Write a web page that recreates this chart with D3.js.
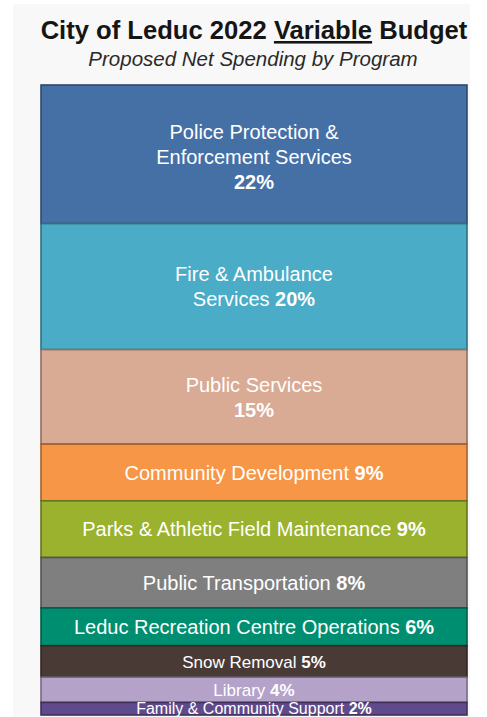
<!DOCTYPE html>
<html><head><meta charset="utf-8">
<script src="https://cdn.jsdelivr.net/npm/d3@7"></script>
<style>
html,body{margin:0;padding:0;background:#fff;}
svg{display:block;font-family:"Liberation Sans",Arial,sans-serif;}
</style></head>
<body><svg id="c" width="487" height="717"></svg>
<script>
const title = ["City of Leduc 2022 ", "Variable", " Budget"];
const subtitle = "Proposed Net Spending by Program";
const categories = ["Police Protection & Enforcement Services","Fire & Ambulance Services","Public Services","Community Development","Parks & Athletic Field Maintenance","Public Transportation","Leduc Recreation Centre Operations","Snow Removal","Library","Family & Community Support"];
const values = [22,20,15,9,9,8,6,5,4,2];
const labelLines = [
  ["Police Protection &","Enforcement Services","{p}"],
  ["Fire & Ambulance","Services {p}"],
  ["Public Services","{p}"],
  ["Community Development {p}"],
  ["Parks & Athletic Field Maintenance {p}"],
  ["Public Transportation  {p}"],
  ["Leduc Recreation Centre Operations {p}"],
  ["Snow Removal {p}"],
  ["Library {p}"],
  ["Family & Community  Support {p}"]
];
const colors = ["#4570a6","#4aacc6","#d9aa94","#f79646","#9bb22e","#7f7f7f","#008e70","#4a3a36","#b4a2c8","#5f4a8b"];

const svg = d3.select("#c");
svg.append("rect").attr("x",13).attr("y",4).attr("width",457).attr("height",713).attr("fill","#f8f8f8");

// title
const t = svg.append("text").attr("x",254).attr("y",39).attr("text-anchor","middle")
  .attr("font-size",25.6).attr("font-weight","bold").attr("fill","#151515");
title.forEach((s,i)=>{ t.append("tspan").text(s).attr("text-decoration", i===1?"underline":null); });
svg.append("text").attr("x",253).attr("y",66).attr("text-anchor","middle")
  .attr("font-size",20.5).attr("font-style","italic").attr("fill","#2a2a2a").text(subtitle);

const x = d3.scaleBand().domain(["2022"]).range([41,467]).padding(0);
const y = d3.scaleLinear().domain([0,d3.sum(values)]).range([85,715]);
const ends = Array.from(d3.cumsum(values));
const segs = categories.map((c,i)=>({name:c, value:values[i], y0: ends[i]-values[i], y1: ends[i], color:colors[i], lines:labelLines[i]}));

const g = svg.append("g");
g.selectAll("rect.seg").data(segs).join("rect").attr("class","seg")
  .attr("x",x("2022")).attr("width",x.bandwidth())
  .attr("y",d=>y(d.y0)).attr("height",d=>y(d.y1)-y(d.y0))
  .attr("fill",d=>d.color)
  .attr("stroke",d=>d3.color(d.color).darker(1.2)).attr("stroke-width",1.6);

const lh = 25;
segs.forEach(d=>{
  const h = y(d.y1)-y(d.y0);
  const fs = h > 35 ? 20 : (h > 20 ? 17 : 16);
  const cy = (y(d.y0)+y(d.y1))/2;
  const n = d.lines.length;
  d.lines.forEach((ln,i)=>{
    const by = cy + (i-(n-1)/2)*lh + fs*0.36 + (n===3?2:0);
    const tx = g.append("text").attr("x",x("2022")+x.bandwidth()/2).attr("y",by)
      .attr("text-anchor","middle").attr("font-size",fs).attr("fill","#fff");
    const parts = ln.split("{p}");
    tx.append("tspan").text(parts[0]);
    if (parts.length>1) tx.append("tspan").attr("font-weight","bold").text(d.value+"%");
  });
});
</script></body></html>
